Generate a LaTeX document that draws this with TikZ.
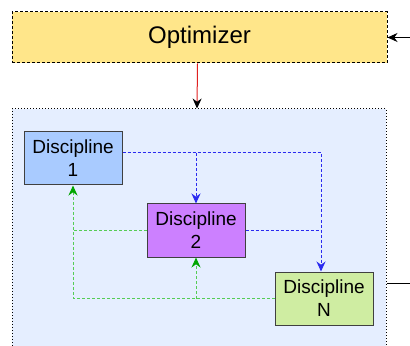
\documentclass[tikz,border=0pt]{standalone}
\usepackage{fontspec}
\setmainfont{Liberation Sans}
\usetikzlibrary{arrows.meta,positioning}
\definecolor{optfill}{HTML}{FFE68A}
\definecolor{mdafill}{HTML}{E5EEFF}
\definecolor{onefill}{HTML}{A9CBFF}
\definecolor{twofill}{HTML}{CC80FF}
\definecolor{nfill}{HTML}{CFEDA2}
\definecolor{fwdblue}{HTML}{2A2AF0}
\definecolor{backgreen}{HTML}{55CC55}
\definecolor{optred}{HTML}{E02020}

\begin{document}
\begin{tikzpicture}[
    block/.style={draw=black!75, line width=0.5pt, minimum width=49pt, minimum height=26.5pt, inner sep=0pt, align=center, font=\fontsize{9.5}{11.5}\selectfont},
    coupling/.style={dash pattern=on 1.5pt off 1pt, line width=0.5pt},
    feed/.style={-{Stealth[length=5pt, width=4.5pt, #1]}}
]
\useasboundingbox (0,0) rectangle (205pt,-173pt);

% optimizer and the analysis box
\node[draw, fill=optfill, dash pattern=on 1.5pt off 1pt, line width=0.5pt, minimum width=187.5pt, minimum height=25.5pt, font=\fontsize{12}{14}\selectfont] (opt) at (99.75pt,-18.75pt) {Optimizer};
\node[draw, fill=mdafill, dash pattern=on 0.5pt off 1pt, line width=0.5pt, minimum width=187pt, minimum height=130.5pt] (solver) at (99.5pt,-119.75pt) {};

\node[block, fill=onefill] (d1) at (36.5pt,-79.25pt) {Discipline\\1};
\node[block, fill=twofill, below right=9pt and 12pt of d1] (d2) {Discipline\\2};
\node[block, fill=nfill, below right=7pt and 14.5pt of d2] (dn) {Discipline\\N};

\coordinate (input) at (205pt,-18.75pt);
\coordinate (output) at (205pt,-141.5pt);
\coordinate (d1out) at ([yshift=2.75pt]d1.east);
\coordinate (nin) at ([xshift=-1.5pt]dn.north);

\draw[line width=0.5pt, feed=black] (input) -- (opt.east);
\draw[line width=0.5pt, optred, feed=black] ([xshift=-1pt]opt.south) -- ([xshift=-1pt]solver.north);
\draw[line width=0.5pt] (solver.east |- output) -- (output);

% forward couplings
\draw[coupling, fwdblue, feed=fwdblue] (d1out) -- (d1out -| nin) -- (nin);
\draw[coupling, fwdblue, feed=fwdblue] (d1out -| d2.north) -- (d2.north);
\draw[coupling, fwdblue] (d2.east) -- (d2.east -| nin);

% feedback couplings
\draw[coupling, backgreen, feed=green!65!black] (dn.west) -- (dn.west -| d1.south) -- (d1.south);
\draw[coupling, backgreen, feed=green!65!black] (dn.west -| d2.south) -- (d2.south);
\draw[coupling, backgreen] (d2.west) -- (d2.west -| d1.south);

\end{tikzpicture}
\end{document}
